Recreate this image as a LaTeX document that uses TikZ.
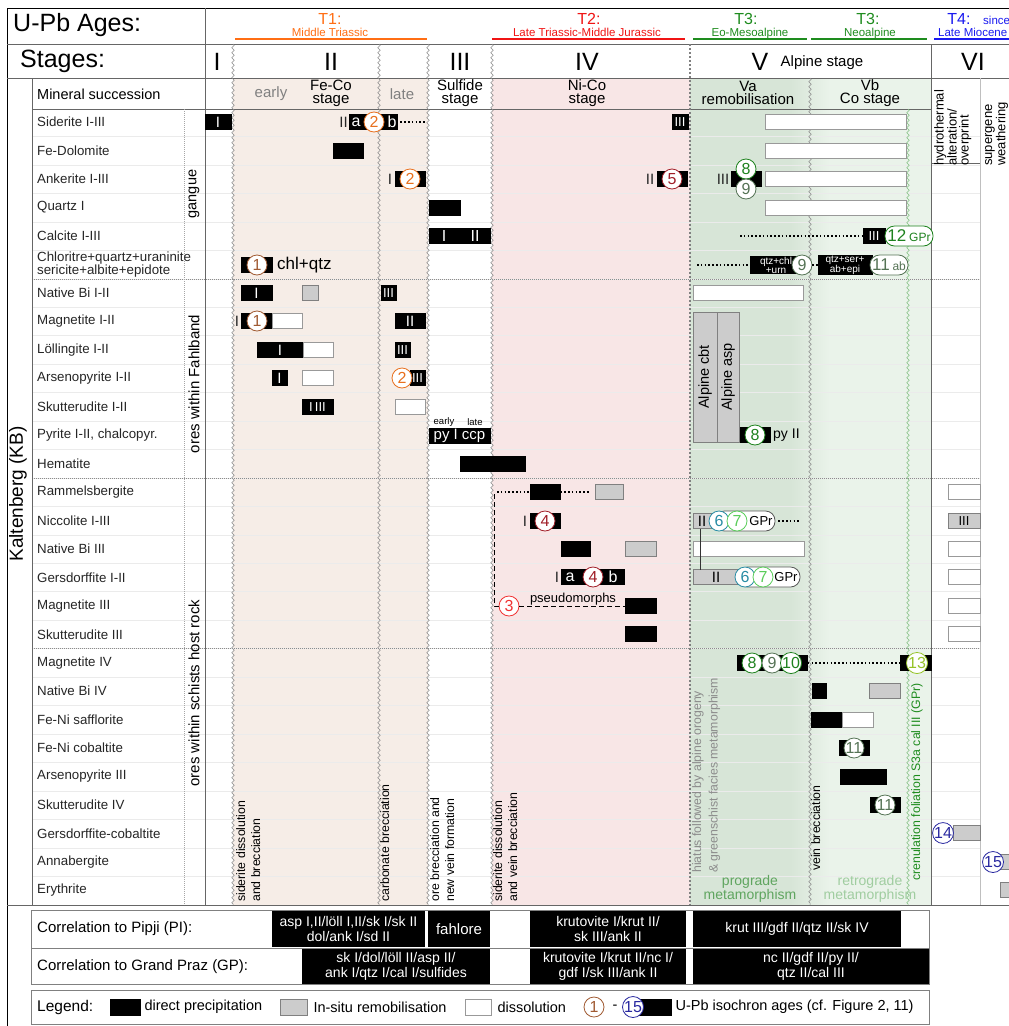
\documentclass[tikz,border=0pt]{standalone}
\usepackage{fontspec}
\setmainfont{Liberation Sans}
\usetikzlibrary{decorations.pathmorphing,positioning}

\definecolor{tone}{RGB}{255,110,20}
\definecolor{ttwo}{RGB}{240,20,20}
\definecolor{tthree}{RGB}{30,140,30}
\definecolor{tfour}{RGB}{25,25,240}
\definecolor{cbrown}{RGB}{160,90,50}
\definecolor{corange}{RGB}{232,112,30}
\definecolor{cred}{RGB}{240,50,50}
\definecolor{cdred}{RGB}{160,30,40}
\definecolor{cgreen}{RGB}{30,130,30}
\definecolor{cgray}{RGB}{85,115,85}
\definecolor{cteal}{RGB}{40,140,165}
\definecolor{clgreen}{RGB}{90,205,90}
\definecolor{cyellow}{RGB}{150,195,40}
\definecolor{cblue}{RGB}{40,40,160}
\definecolor{bgtwo}{RGB}{246,237,231}
\definecolor{bgfour}{RGB}{248,230,230}
\definecolor{bgva}{RGB}{215,229,215}
\definecolor{bgvb}{RGB}{234,243,234}
\definecolor{tpro}{RGB}{95,165,95}
\definecolor{tretro}{RGB}{160,205,160}
\newcommand{\fsz}[1]{\fontsize{#1}{#1}\selectfont}

\begin{document}
\begin{tikzpicture}[x=1pt,y=-1pt,
  every node/.style={inner sep=0pt, font=\fsz{13}},
  mineral/.style={anchor=west, align=left, text=black!85, font=\fontsize{13.3}{12}\selectfont},
  hdr/.style={align=center, font=\fontsize{15}{13}\selectfont},
  tlabel/.style={anchor=base, font=\fsz{16}},
  tsub/.style={anchor=base, font=\fsz{11.5}},
  bar/.style={line width=0.7pt, minimum height=15pt, text=white, font=\fsz{15}},
  ppt/.style={bar, fill=black, draw=black},
  remob/.style={bar, fill=black!20, draw=black!50, text=black},
  diss/.style={bar, fill=white, draw=black!40},
  age/.style={circle, draw=#1, text=#1, fill=white, line width=0.8pt, minimum size=20pt, font=\fsz{16}},
  gpr/.style={draw=#1, fill=white, rounded corners=9.5pt, minimum height=20pt, line width=0.8pt},
  roman/.style={font=\fsz{15}, text=black!85},
  inbar/.style={text=white, font=\fsz{16}},
  dotlink/.style={line width=1.6pt, dash pattern=on 1.6pt off 2.2pt},
  dashlink/.style={line width=0.6pt, dash pattern=on 5pt off 3pt},
  wavy/.style={black!45, line width=0.5pt, decorate, decoration={zigzag, segment length=5pt, amplitude=1.3pt}},
  rot/.style={rotate=90, anchor=north west, align=left, font=\fontsize{12.3}{15}\selectfont},
  corr/.style={fill=black, text=white, minimum height=36pt, align=center, font=\fontsize{14}{14.5}\selectfont},
  lgtext/.style={font=\fsz{14.5}, anchor=west}
]
\useasboundingbox (0,0) rectangle (1009,1026);
\fill[white] (0,0) rectangle (1009,1026);

% stage backgrounds
\fill[bgtwo] (233,78) rectangle (428,905);
\fill[bgfour] (492,78) rectangle (690,905);
\fill[bgva] (690,78) rectangle (790,905);
\shade[left color=bgva, right color=bgvb] (790,78) rectangle (830,905);
\fill[bgvb] (830,78) rectangle (931,905);

% row grid
\foreach \k in {1,...,27}
  \draw[black!8, line width=0.4pt] (32,{108+28.45*\k}) -- (980,{108+28.45*\k});
\foreach \k in {6,13,19}
  \draw[black!45, line width=0.4pt, dash pattern=on 1pt off 1pt] (32,{108+28.45*\k}) -- (980,{108+28.45*\k});

% frame
\draw[black, line width=0.8pt] (1009,8) -- (7,8) -- (7,1026);
\draw[black!60, line width=0.7pt] (7,44) -- (1009,44) (7,78) -- (1009,78) (7,905) -- (1009,905);
\draw[black!60, line width=0.7pt] (32,109) -- (931,109);
\draw[black!60, line width=0.7pt] (32,78) -- (32,905) (205,8) -- (205,905) (931,44) -- (931,905);
\draw[black!60, line width=0.7pt] (931,163) -- (980,163);
\draw[black!35, dash pattern=on 1pt off 1pt] (184,109) -- (184,905);
\draw[black!25] (980,78) -- (980,905);

% stage borders
\foreach \xx in {233,379,428,492}
  \draw[wavy] (\xx,44) -- (\xx,905);
\draw[wavy] (810,78) -- (810,905);
\draw[wavy, tthree!55] (908,109) -- (908,905);
\draw[black!50, line width=2pt, dash pattern=on 2pt off 2pt] (690,44) -- (690,905);

% age header
\node[anchor=west, font=\fsz{25}] (upb) at (13,25) {U-Pb Ages:};
\node[tlabel, text=tone] (t1) at (330,24) {T1:};
\node[tsub, text=tone] (t1s) at (330,36.5) {Middle Triassic};
\draw[tone, line width=2.5pt] (235,39) -- (427,39);
\node[tlabel, text=ttwo] (t2) at (589,24) {T2:};
\node[tsub, text=ttwo] (t2s) at (587,36.5) {Late Triassic-Middle Jurassic};
\draw[ttwo, line width=2.5pt] (492,39) -- (685,39);
\node[tlabel, text=tthree] (t3a) at (746,24) {T3:};
\node[tsub, text=tthree] (t3as) at (750,36.5) {Eo-Mesoalpine};
\draw[tthree, line width=2.5pt] (693,39) -- (807,39);
\node[tlabel, text=tthree] (t3b) at (868,24) {T3:};
\node[tsub, text=tthree] (t3bs) at (870,36.5) {Neoalpine};
\draw[tthree, line width=2.5pt] (811,39) -- (927,39);
\node[tlabel, text=tfour] (t4) at (959,24) {T4:};
\node[tsub, text=tfour, anchor=base west] (t4a) at (983,24) {since};
\node[tsub, text=tfour, anchor=base west] (t4s) at (938,36.5) {Late Miocene};
\draw[tfour, line width=2.5pt] (934,39) -- (1009,39);

% stages
\node[anchor=west, font=\fsz{25}] (stg) at (20,61) {Stages:};
\node[font=\fsz{25}] (s1) at (217,62) {I};
\node[font=\fsz{25}] (s2) at (331,62) {II};
\node[font=\fsz{25}] (s3) at (460,62) {III};
\node[font=\fsz{25}] (s4) at (587,62) {IV};
\node[font=\fsz{25}] (s5) at (760,62) {V};
\node[font=\fsz{15}] (s5t) at (822,63) {Alpine stage};
\node[font=\fsz{25}] (s6) at (973,62) {VI};

% mineral succession header
\node[anchor=west, font=\fsz{14.5}] (msh) at (37,94) {Mineral succession};
\node[hdr, text=black!50] (early) at (271,94) {early};
\node[hdr] (feco) at (331,93) {Fe-Co\\stage};
\node[hdr, text=black!50] (late) at (402,94) {late};
\node[hdr] (sulf) at (460,93) {Sulfide\\stage};
\node[hdr] (nico) at (587,93) {Ni-Co\\stage};
\node[hdr] (remo) at (748,93) {Va\\remobilisation};
\node[hdr] (costg) at (870,93) {Vb\\Co stage};
\node[rot, font=\fontsize{13}{12}\selectfont] (hyd) at (934,166) {hydrothermal\\alteration/\\overprint};
\node[rot, font=\fontsize{13}{12}\selectfont] (sup) at (985,166) {supergene\\weathering};

% minerals
\foreach \nm [count=\k from 0] in {Siderite I-III, Fe-Dolomite, Ankerite I-III, Quartz I,
    Calcite I-III, {Chloritre+quartz+uraninite\\sericite+albite+epidote}, Native Bi I-II,
    Magnetite I-II, Löllingite I-II, Arsenopyrite I-II, Skutterudite I-II,
    {Pyrite I-II, chalcopyr.}, Hematite, Rammelsbergite, Niccolite I-III, Native Bi III,
    Gersdorffite I-II, Magnetite III, Skutterudite III, Magnetite IV, Native Bi IV,
    Fe-Ni safflorite, Fe-Ni cobaltite, Arsenopyrite III, Skutterudite IV,
    Gersdorffite-cobaltite, Annabergite, Erythrite}
  \node[mineral] (min\k) at (37,{122.2+28.45*\k}) {\nm};
\node[rotate=90, font=\fsz{14.5}] (gang) at (194,194) {gangue};
\node[rotate=90, font=\fsz{15}] (fahl) at (194,384) {ores within Fahlband};
\node[rotate=90, font=\fsz{15}] (host) at (194,693) {ores within schists host rock};
\node[rotate=90, font=\fsz{19}] (kb) at (18,494) {Kaltenberg (KB)};

% siderite
\node[ppt, minimum width=26pt] (sd1) at (218,122) {I};
\node[roman, anchor=east] (sdII) at (348,122) {II};
\node[ppt, minimum width=48pt] (sd2) at (373,122) {};
\node[inbar] (sda) at (356,122) {a};
\node[inbar] (sdb) at (392,122) {b};
\node[age=corange] (a2a) at (374,122) {2};
\coordinate (sdend) at (426,122);
\draw[dotlink, shorten <=3pt] (sd2.east) -- (sdend);
\node[ppt, minimum width=16pt, font=\fsz{13}] (sd3) at (680,122) {III};
\node[diss, minimum width=141pt] (sd4) at (835.5,122) {};
% fe-dolomite
\node[ppt, minimum width=30pt] (fd1) at (348,151) {};
\node[diss, minimum width=141pt] (fd2) at (835.5,151) {};
% ankerite
\node[roman] (akI) at (390,179) {I};
\node[ppt, minimum width=30pt] (ak1) at (410,179) {};
\node[age=corange] (a2b) at (410,179) {2};
\node[roman] (akII) at (650,179) {II};
\node[ppt, minimum width=30pt] (ak2) at (672,179) {};
\node[age=cdred] (a5) at (672,179) {5};
\node[roman] (akIII) at (723,179) {III};
\node[ppt, minimum width=30pt] (ak3) at (746,179) {};
\node[age=cgreen] (a8a) at (746,169) {8};
\node[age=cgray] (a9a) at (746,189) {9};
\node[diss, minimum width=141pt] (ak4) at (835.5,179) {};
% quartz
\node[ppt, minimum width=31pt] (qz1) at (444.5,208) {};
\node[diss, minimum width=141pt] (qz2) at (835.5,208) {};
% calcite
\node[ppt, minimum width=61pt] (cc1) at (459.5,236) {};
\node[inbar] (ccI) at (444,236) {I};
\node[inbar] (ccII) at (475,236) {II};
\coordinate (ccst) at (740,236);
\node[ppt, minimum width=22pt, font=\fsz{13}] (cc2) at (874,236) {III};
\draw[dotlink] (ccst) -- (cc2.west);
\node[gpr=cgreen, minimum width=48pt, text=cgreen] (g12) at (909,236) {\fsz{17}12\,\fsz{12}GPr};
% chlorite
\node[ppt, minimum width=31pt] (ch1) at (256.5,265) {};
\node[age=cbrown] (a1a) at (257,265) {1};
\node[anchor=west, font=\fsz{17}] (chq) at (277,265) {chl+qtz};
\coordinate (chst) at (697,265);
\node[ppt, minimum width=52pt, align=center, font=\fontsize{10}{9}\selectfont] (ch2) at (776,265) {qtz+chl\\+urn};
\draw[dotlink] (chst) -- (ch2.west);
\node[age=cgray] (a9b) at (802,265) {9};
\node[ppt, minimum width=54pt, align=center, font=\fontsize{10}{9}\selectfont] (ch3) at (845,265) {qtz+ser+\\ab+epi};
\draw[dotlink] (a9b.east) -- (ch3.west);
\node[gpr=cgray, minimum width=38pt, text=cgray] (g11) at (889,265) {\fsz{17}11\,\fsz{12}ab};
% native bi I-II
\node[ppt, minimum width=31pt] (bi1) at (256.5,293) {I};
\node[remob, minimum width=16pt] (bi2) at (310,293) {};
\node[ppt, minimum width=15pt, font=\fsz{13}] (bi3) at (388.5,293) {III};
\node[diss, minimum width=110pt] (bi4) at (748,293) {};
% magnetite I-II
\node[roman] (mtI) at (237,321) {I};
\node[ppt, minimum width=31pt] (mt1) at (256.5,321) {};
\node[diss, minimum width=30pt] (mt2) at (287,321) {};
\node[age=cbrown] (a1b) at (257,321) {1};
\node[ppt, minimum width=30pt] (mt3) at (410,321) {II};
\node[remob, rotate=90, minimum width=130pt, minimum height=24pt, font=\fsz{14.5}] (acbt) at (705,377) {Alpine cbt};
\node[remob, rotate=90, minimum width=130pt, minimum height=22pt, font=\fsz{14.5}] (aasp) at (728,377) {Alpine asp};
% loellingite
\node[ppt, minimum width=46pt] (lo1) at (280,350) {I};
\node[diss, minimum width=30pt] (lo2) at (318,350) {};
\node[ppt, minimum width=15pt, font=\fsz{13}] (lo3) at (402.5,350) {III};
% arsenopyrite
\node[ppt, minimum width=15pt] (as1) at (279.5,378) {I};
\node[diss, minimum width=31pt] (as2) at (317.5,378) {};
\node[ppt, minimum width=15pt, font=\fsz{13}] (as3) at (417.5,378) {III};
\node[age=corange] (a2c) at (402,378) {2};
% skutterudite I-II
\node[ppt, minimum width=31pt, font=\fsz{13}] (sk1) at (317.5,407) {I\,III};
\node[diss, minimum width=30pt] (sk2) at (410,407) {};
% pyrite
\node[font=\fsz{9.5}] (pye) at (444,422) {early};
\node[font=\fsz{9.5}] (pyl) at (475,422) {late};
\node[ppt, minimum width=61pt] (py1) at (459.5,436) {py I ccp};
\node[ppt, minimum width=30pt] (py2) at (755,435) {};
\node[age=cgreen] (a8b) at (755,435) {8};
\node[anchor=west, font=\fsz{14}] (py2t) at (773,435) {py II};
% hematite
\node[ppt, minimum width=65pt] (hm1) at (492.5,464) {};
% rammelsbergite
\coordinate (rmst) at (497,492);
\node[ppt, minimum width=30pt] (rm1) at (545,492) {};
\node[remob, minimum width=28pt] (rm2) at (609,492) {};
\draw[dotlink] (rmst) -- (rm1.west);
\draw[dotlink, shorten >=4pt] (rm1.east) -- (rm2.west);
\node[diss, minimum width=32pt] (rm3) at (964,492) {};
% niccolite
\node[roman] (ncI) at (525,521) {I};
\node[ppt, minimum width=30pt] (nc1) at (545,521) {};
\node[age=cdred] (a4a) at (545,521) {4};
\node[remob, minimum width=27pt] (nc2) at (706.5,521) {};
\node[roman, text=black] (ncII) at (702,521) {II};
\node[gpr=black!65, minimum width=60pt] (gp14) at (745,521) {};
\node[font=\fsz{13}] (gp14t) at (761,521) {GPr};
\node[age=cteal] (a6a) at (719,521) {6};
\node[age=clgreen] (a7a) at (737,521) {7};
\coordinate (ncend) at (801,521);
\draw[dotlink, shorten <=3pt] (gp14.east) -- (ncend);
\node[remob, minimum width=32pt, font=\fsz{13}] (nc3) at (964,521) {III};
% native bi III
\node[ppt, minimum width=29pt] (nb1) at (575.5,549) {};
\node[remob, minimum width=31pt] (nb2) at (640.5,549) {};
\node[diss, minimum width=111pt] (nb3) at (748.5,549) {};
\node[diss, minimum width=32pt] (nb4) at (964,549) {};
% gersdorffite
\node[roman] (gdI) at (557,577) {I};
\node[ppt, minimum width=63pt] (gd1) at (592.5,577) {};
\node[inbar] (gda) at (570,577) {a};
\node[inbar] (gdb) at (613,577) {b};
\node[age=cdred] (a4b) at (593,577) {4};
\node[remob, minimum width=47pt] (gd2) at (716.5,577) {};
\node[roman, text=black] (gdII) at (716,577) {II};
\node[gpr=black!65, minimum width=62pt] (gp16) at (769,577) {};
\node[font=\fsz{13}] (gp16t) at (786,577) {GPr};
\node[age=cteal] (a6b) at (745,577) {6};
\node[age=clgreen] (a7b) at (763,577) {7};
\coordinate (lkA) at (700,528.5);
\coordinate (lkB) at (700,569.5);
\draw[black!80, line width=0.8pt] (lkA) -- (lkB);
\node[diss, minimum width=32pt] (gd3) at (964,577) {};
% magnetite III
\coordinate (pmtop) at (494,494);
\node[age=cred] (a3) at (509,606) {3};
\node[ppt, minimum width=31pt] (mg3) at (640.5,606) {};
\draw[dashlink] (pmtop) |- (a3.west);
\draw[dashlink] (a3.east) -- (mg3.west);
\node[anchor=base, font=\fsz{13}] (pseudo) at (573,602) {pseudomorphs};
\node[diss, minimum width=32pt] (mg3b) at (964,606) {};
% skutterudite III
\node[ppt, minimum width=31pt] (sk3) at (640.5,634) {};
\node[diss, minimum width=32pt] (sk3b) at (964,634) {};
% magnetite IV
\node[ppt, minimum width=70pt] (m4a) at (772,663) {};
\node[age=cgreen] (a8c) at (752,663) {8};
\node[age=cgray] (a9c) at (772,663) {9};
\node[age=cgreen] (a10) at (791,663) {10};
\node[ppt, minimum width=31pt] (m4b) at (915.5,663) {};
\node[age=cyellow] (a13) at (917,663) {13};
\draw[dotlink, shorten <=2pt] (a10.east) -- (m4b.west);
% native bi IV
\node[ppt, minimum width=14pt] (b4a) at (819,691) {};
\node[remob, minimum width=31pt] (b4b) at (884.5,691) {};
% safflorite
\node[ppt, minimum width=31pt] (sf1) at (826.5,720) {};
\node[diss, minimum width=31pt] (sf2) at (857.5,720) {};
% cobaltite
\node[ppt, minimum width=30pt] (co1) at (854,748) {};
\node[age=cgray] (a11a) at (854,748) {11};
% arsenopyrite III
\node[ppt, minimum width=46pt] (ap3) at (863,777) {};
% skutterudite IV
\node[ppt, minimum width=30pt] (sk4) at (885,805) {};
\node[age=cgray] (a11b) at (885,805) {11};
% gersdorffite-cobaltite, annabergite, erythrite
\node[remob, minimum width=27pt] (gc1) at (966.5,833) {};
\node[age=cblue] (a14) at (943,833) {14};
\node[remob, minimum width=20pt] (an1) at (1010,862) {};
\node[age=cblue] (a15) at (993,862) {15};
\node[remob, minimum width=20pt] (er1) at (1010,890) {};

% events
\node[rot] (sdd) at (236,902) {siderite dissolution\\and brecciation};
\node[rot] (cbr) at (380,902) {carbonate brecciation};
\node[rot] (obr) at (430,902) {ore brecciation and\\new vein formation};
\node[rot] (svb) at (493,902) {siderite dissolution\\and vein brecciation};
\node[rot, text=black!45, font=\fontsize{12.3}{16.5}\selectfont] (hia) at (692,873) {hiatus followed by alpine orogeny\\\& greenschist facies metamorphism};
\node[rot] (vbr) at (811,871) {vein brecciation};
\node[rot, text=tthree] (cre) at (911,881) {crenulation foliation S3a cal III (GPr)};
\node[align=center, text=tpro, font=\fontsize{14}{14}\selectfont] (pro) at (750,889) {prograde\\metamorphism};
\node[align=center, text=tretro, font=\fontsize{14}{14}\selectfont] (retro) at (870,889) {retrograde\\metamorphism};

% correlation
\draw[black!50, line width=0.7pt] (31,910) rectangle (929,984);
\draw[black!50, line width=0.7pt] (31,948) -- (929,948);
\node[lgtext, font=\fsz{15}] (cpi) at (37,929) {Correlation to Pipji (PI):};
\node[lgtext, font=\fsz{15}] (cgp) at (37,967) {Correlation to Grand Praz (GP):};
\node[corr, minimum width=153pt] (pi1) at (348.5,929) {asp I,II/löll I,II/sk I/sk II\\dol/ank I/sd II};
\node[corr, minimum width=62pt, font=\fsz{15}] (pi2) at (459,929) {fahlore};
\node[corr, minimum width=156pt] (pi3) at (608,929) {krutovite I/krut II/\\sk III/ank II};
\node[corr, minimum width=208pt] (pi4) at (797,929) {krut III/gdf II/qtz II/sk IV};
\node[corr, minimum width=188pt, minimum height=35pt] (gp1) at (396,966.5) {sk I/dol/löll II/asp II/\\ank I/qtz I/cal I/sulfides};
\node[corr, minimum width=156pt, minimum height=35pt] (gp2) at (608,966.5) {krutovite I/krut II/nc I/\\gdf I/sk III/ank II};
\node[corr, minimum width=236pt, minimum height=35pt] (gp3) at (811,966.5) {nc II/gdf II/py II/\\qtz II/cal III};

% legend
\draw[black!50, line width=0.7pt] (31,990) rectangle (929,1024);
\node[lgtext, font=\fsz{15.5}] (lgl) at (37,1007) {Legend:};
\node[ppt, minimum width=30pt, minimum height=16pt] (lgA) at (125,1007) {};
\node[lgtext, right=4pt of lgA] (lgAt) {direct precipitation};
\node[remob, minimum width=27pt, minimum height=16pt] (lgB) at (293.5,1007) {};
\node[lgtext, right=6pt of lgB] (lgBt) {In-situ remobilisation};
\node[diss, minimum width=26pt, minimum height=16pt] (lgC) at (478,1007) {};
\node[lgtext, right=6pt of lgC] (lgCt) {dissolution};
\node[age=cbrown] (lg1) at (594,1007) {1};
\node[font=\fsz{14.5}] (lgdash) at (615,1007) {-};
\node[ppt, minimum width=33pt, minimum height=16pt] (lgD) at (654.5,1007) {};
\node[age=cblue] (lg15) at (633,1007) {15};
\node[lgtext, right=4pt of lgD] (lgDt) {U-Pb isochron ages (cf. Figure 2, 11)};
\end{tikzpicture}
\end{document}
